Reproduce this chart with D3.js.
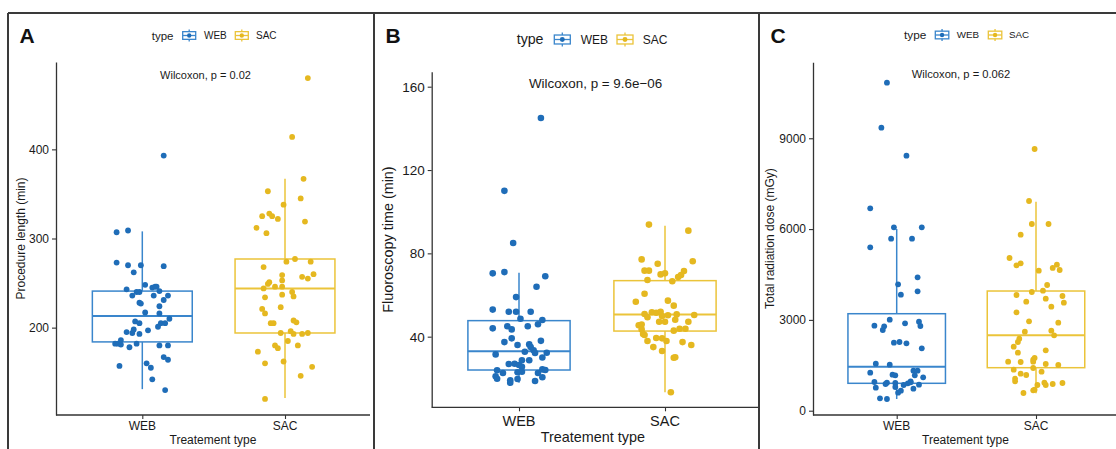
<!DOCTYPE html>
<html>
<head>
<meta charset="utf-8">
<script src="https://cdn.jsdelivr.net/npm/d3@7"></script>
<style>
  body { margin: 0; background: #fff; }
  svg { display: block; font-family: "Liberation Sans", Arial, sans-serif; }
</style>
</head>
<body>
<svg width="1116" height="449"></svg>
<script>
// Categories and colours (ggpubr "jco" palette)
const categories = ["WEB", "SAC"];
const pointColors = ["#1f6db8", "#e5b820"];
const boxColors = ["#3a86cc", "#ebc43a"];

// Each point: [value, horizontal jitter in category units]
const procWeb = [[393,0.15],[307,-0.18],[309,-0.10],[273,-0.18],[270,-0.10],[270,-0.01],[269,0.15],[262,-0.06],[243,-0.11],[240,-0.04],[240,-0.02],[248,0.02],[245,0.07],[246,0.09],[246,0.10],[241,0.12],[236,-0.07],[236,0.08],[236,0.18],[231,0.15],[228,-0.02],[227,-0.01],[224,0.12],[217,0.02],[216,0.12],[210,0.19],[207,-0.05],[205,-0.02],[201,0.11],[205,0.13],[205,0.16],[195,-0.11],[194,-0.07],[198,-0.06],[193,-0.02],[197,0.04],[182,-0.19],[182,-0.17],[186,-0.15],[181,-0.15],[178,-0.09],[182,-0.04],[180,0.12],[180,0.18],[167,0.15],[164,0.18],[157,-0.16],[160,0.03],[155,0.06],[142,0.07],[130,0.16]];
const procSac = [[480,0.16],[414,0.05],[367,0.13],[353,-0.12],[345,0.11],[338,-0.01],[325,-0.16],[328,-0.11],[325,-0.09],[322,-0.05],[319,0.14],[312,-0.20],[306,-0.13],[274,0.01],[277,0.07],[274,0.18],[268,-0.15],[259,-0.02],[257,0.12],[255,0.16],[260,0.20],[249,-0.12],[251,-0.11],[253,-0.02],[244,-0.15],[246,-0.07],[246,-0.02],[240,0.05],[235,0.06],[234,-0.14],[237,-0.02],[221,-0.16],[216,-0.14],[223,-0.03],[205,-0.10],[205,-0.08],[208,0.06],[206,0.08],[194,-0.03],[196,0.04],[193,0.06],[193,0.12],[194,0.16],[185,0.02],[180,-0.07],[177,-0.05],[180,0.09],[173,-0.19],[160,-0.14],[162,-0.01],[156,0.19],[146,0.11],[120,-0.14]];

const fluoroWeb = [[145,0.15],[110,-0.10],[85,-0.04],[70.4,-0.18],[71,-0.10],[69,0.18],[64,0.12],[59,-0.02],[53,-0.18],[52,-0.07],[52,-0.02],[52,0.08],[48.6,0.01],[48,0.16],[46,0.13],[44,-0.18],[45,-0.08],[43.5,-0.05],[45,0.06],[37.4,-0.10],[39.2,-0.05],[36,-0.01],[36.3,0.07],[38,0.15],[35,0.08],[33.5,0.10],[32.8,0.04],[32.2,0.11],[31.5,-0.16],[32.3,0.19],[30,0.16],[28.7,0.07],[28.7,0.02],[26.9,-0.07],[27,-0.03],[26.4,0],[25.6,0.02],[24.3,0.16],[24,0.18],[23.9,-0.15],[22.6,-0.11],[22.9,-0.01],[23.2,0.02],[22.6,0.13],[21,-0.16],[19.8,-0.15],[19.7,-0.01],[20.5,0.16],[19.1,-0.06],[17.9,-0.06],[18.7,0.11]];
const fluoroSac = [[93.8,-0.11],[90.9,0.16],[77.1,-0.16],[75,-0.05],[76.2,0.19],[71.7,-0.14],[71.7,-0.11],[69.9,-0.03],[70.4,0],[71.5,0.13],[69.6,0.11],[68.6,0.09],[67.2,-0.12],[66.6,0.05],[60.6,-0.14],[56.8,-0.20],[57.3,0.02],[54.9,0.06],[50.9,-0.14],[49.3,-0.12],[51.7,-0.09],[51.5,-0.06],[52,-0.03],[49.9,-0.02],[50.3,0.02],[50.7,0.08],[50.4,0.20],[47.2,-0.04],[47.2,0],[48.1,0.07],[47.2,0.16],[45.5,-0.18],[45.8,-0.16],[43.5,-0.16],[42.9,0.06],[43.8,0.10],[43.8,0.14],[41.3,-0.15],[40.8,-0.14],[39.4,-0.06],[39.2,-0.02],[37.9,0.01],[37.9,-0.12],[37.4,0.12],[35,-0.08],[36,0.18],[33.1,-0.02],[29.9,0.06],[30.1,0.07],[13.3,0.04]];

const doseWeb = [[10836,-0.07],[9349,-0.11],[8424,0.07],[6686,-0.19],[6059,-0.02],[6059,0.18],[5682,-0.04],[5682,0.11],[5398,-0.19],[4407,0.15],[4176,0.01],[3944,0.15],[3832,0.03],[3006,-0.05],[2808,-0.16],[2788,-0.09],[2666,-0.10],[2887,0.06],[2940,0.16],[2798,0.17],[2246,-0.02],[2270,0.02],[2227,0.07],[2061,0.18],[1553,-0.15],[1520,-0.05],[1255,-0.19],[1189,-0.03],[1169,-0.01],[1321,0.12],[1321,0.15],[1169,0.13],[1103,0.19],[948,-0.16],[925,-0.07],[915,-0.01],[971,0.10],[859,0.16],[760,-0.15],[882,-0.08],[783,-0.01],[661,0.03],[849,0.05],[905,0.08],[938,0.10],[595,0.01],[727,0.12],[410,-0.12],[387,-0.07]];
const doseSac = [[8646,-0.01],[6928,-0.05],[6168,-0.03],[6168,0.09],[5814,-0.11],[5045,-0.19],[4803,-0.14],[4869,-0.11],[4823,0.15],[4717,0.12],[4648,0.17],[4625,0.02],[4153,0.08],[3921,-0.03],[3964,0.05],[3822,-0.14],[3789,0.19],[3700,0.07],[3601,-0.07],[3568,0.20],[3436,0.11],[3251,-0.14],[2953,-0.05],[2907,0.16],[2610,-0.08],[2643,0.11],[2491,0.13],[2379,-0.12],[2270,-0.13],[2114,-0.16],[1916,-0.13],[1995,0.07],[1619,-0.20],[1609,-0.11],[1685,-0.02],[1741,-0.01],[1619,-0.02],[1543,0.07],[1510,0.16],[1355,-0.16],[1411,-0.02],[1288,0.04],[1222,-0.11],[1179,-0.07],[1057,-0.15],[971,-0.15],[849,0.01],[925,0.06],[849,0.07],[882,0.12],[915,0.19],[674,-0.02],[694,-0.01],[585,-0.09]];

// Box stats per group: [lower whisker, Q1, median, Q3, upper whisker]
const procBoxes = [[131, 184, 213, 241, 308], [121, 194, 244, 277, 367]];
const fluoroBoxes = [[17.9, 24, 33, 47.7, 70.7], [13.3, 42.7, 50.6, 66.9, 93.3]];
const doseBoxes = [[387, 905, 1454, 3204, 6003], [575, 1421, 2491, 3954, 6904]];

// Tick labels
const procTicks = [200, 300, 400];
const fluoroTicks = [40, 80, 120, 160];
const doseTicks = [0, 3000, 6000, 9000];

const pLabels = ["Wilcoxon, p = 0.02", "Wilcoxon, p = 9.6e\u221206", "Wilcoxon, p = 0.062"];
const yTitles = ["Procedure length (min)", "Fluoroscopy time (min)", "Total radiation dose (mGy)"];
const xTitle = "Treatement type";

const svg = d3.select("svg");

const panels = [
    { letter: "A", x0: 8, x1: 374, axisX: 56, xEnd: 370, top: 62, bottom: 415, cx: [142.3, 285],
      domain: [102, 498], ticks: procTicks, data: [procWeb, procSac], boxes: procBoxes,
      pText: pLabels[0], pPos: [205.5, 79], yTitle: yTitles[0], yTitleX: 25,
      tickFont: 12, titleFont: 12, pFont: 11, legTitleFont: 11.5, legFont: 10, r: 2.9,
      legY: 35.5, legX: [151.7, 181.7, 204, 234.3, 256], keyW: 15, keyH: 12,
      xLabY: 430, xTitleY: 444 },
    { letter: "B", x0: 374, x1: 759, axisX: 431.7, xEnd: 758, top: 71.7, bottom: 407.3, cx: [519, 665],
      domain: [6.1, 167.2], ticks: fluoroTicks, data: [fluoroWeb, fluoroSac], boxes: fluoroBoxes,
      pText: pLabels[1], pPos: [595.5, 87.5], yTitle: yTitles[1], yTitleX: 393,
      tickFont: 13.5, titleFont: 14.4, pFont: 13.4, legTitleFont: 14.2, legFont: 12, r: 3.3,
      legY: 39.5, legX: [516.7, 553.3, 580.7, 616, 642.7], keyW: 18, keyH: 14,
      xLabY: 426, xTitleY: 442 },
    { letter: "C", x0: 759, x1: 1118, axisX: 813, xEnd: 1118, top: 62.3, bottom: 415, cx: [896.7, 1036],
      domain: [-142, 11510], ticks: doseTicks, data: [doseWeb, doseSac], boxes: doseBoxes,
      pText: pLabels[2], pPos: [961, 78], yTitle: yTitles[2], yTitleX: 774,
      tickFont: 12, titleFont: 12, pFont: 11.2, legTitleFont: 11.8, legFont: 9.8, r: 2.9,
      legY: 35, legX: [904, 934.3, 956.7, 987.3, 1009], keyW: 15.5, keyH: 12,
      xLabY: 430, xTitleY: 444 }
];

const ink = "#1a1a1a";
const axisColor = "#333";

panels.forEach(p => {
    const g = svg.append("g");

    const x = d3.scalePoint().domain(categories).range(p.cx);
    const step = p.cx[1] - p.cx[0];
    const y = d3.scaleLinear().domain(p.domain).range([p.bottom, p.top]);
    const halfBox = 0.35 * step;

    // Panel letter
    g.append("text")
        .attr("x", p.x0 + 11.5)
        .attr("y", 43)
        .attr("font-size", 21)
        .attr("font-weight", "bold")
        .attr("fill", "#111")
        .text(p.letter);

    // Legend
    const leg = g.append("g");
    leg.append("text")
        .attr("x", p.legX[0]).attr("y", p.legY).attr("dy", "0.35em")
        .attr("font-size", p.legTitleFont).attr("fill", ink)
        .text("type");
    categories.forEach((c, i) => {
        const kx = p.legX[1 + i * 2];
        const kcx = kx + p.keyW / 2;
        const hb = p.keyH * 0.32;
        const k = leg.append("g").attr("stroke", boxColors[i]).attr("stroke-width", 1.3).attr("fill", "none");
        k.append("line").attr("x1", kcx).attr("x2", kcx).attr("y1", p.legY - p.keyH / 2).attr("y2", p.legY - hb);
        k.append("line").attr("x1", kcx).attr("x2", kcx).attr("y1", p.legY + hb).attr("y2", p.legY + p.keyH / 2);
        k.append("rect").attr("x", kx + 1).attr("y", p.legY - hb).attr("width", p.keyW - 2).attr("height", hb * 2);
        k.append("line").attr("x1", kx + 1).attr("x2", kx + p.keyW - 1).attr("y1", p.legY).attr("y2", p.legY);
        leg.append("circle").attr("cx", kcx).attr("cy", p.legY).attr("r", p.r * 0.75).attr("fill", pointColors[i]);
        leg.append("text")
            .attr("x", p.legX[2 + i * 2]).attr("y", p.legY).attr("dy", "0.35em")
            .attr("font-size", p.legFont).attr("fill", ink)
            .text(c);
    });

    // Boxes
    categories.forEach((c, i) => {
        const [lo, q1, med, q3, hi] = p.boxes[i];
        const bx = x(c);
        const bg = g.append("g").attr("stroke", boxColors[i]).attr("stroke-width", 1.5).attr("fill", "none");
        bg.append("line").attr("x1", bx).attr("x2", bx).attr("y1", y(hi)).attr("y2", y(q3));
        bg.append("line").attr("x1", bx).attr("x2", bx).attr("y1", y(q1)).attr("y2", y(lo));
        bg.append("rect")
            .attr("x", bx - halfBox).attr("width", 2 * halfBox)
            .attr("y", y(q3)).attr("height", y(q1) - y(q3))
            .attr("fill", "#fff");
        bg.append("line")
            .attr("x1", bx - halfBox).attr("x2", bx + halfBox)
            .attr("y1", y(med)).attr("y2", y(med))
            .attr("stroke-width", 2);
    });

    // Jittered points
    categories.forEach((c, i) => {
        g.append("g").selectAll("circle")
            .data(p.data[i])
            .join("circle")
            .attr("cx", d => x(c) + d[1] * step)
            .attr("cy", d => y(d[0]))
            .attr("r", p.r)
            .attr("fill", pointColors[i]);
    });

    // Y axis
    const yAxis = g.append("g")
        .attr("transform", `translate(${p.axisX},0)`)
        .call(d3.axisLeft(y).tickValues(p.ticks).tickFormat(d3.format("d"))
            .tickSize(4).tickSizeOuter(0).tickPadding(3));
    yAxis.select(".domain").attr("stroke", axisColor).attr("stroke-width", 1.3);
    yAxis.selectAll(".tick line").attr("stroke", axisColor).attr("stroke-width", 1.1);
    yAxis.selectAll(".tick text").attr("font-size", p.tickFont).attr("fill", ink)
        .attr("font-family", "Liberation Sans, Arial, sans-serif");

    // X axis
    const xAxis = g.append("g")
        .attr("transform", `translate(0,${p.bottom})`)
        .call(d3.axisBottom(x).tickSize(4).tickSizeOuter(0).tickPadding(2));
    xAxis.select(".domain").remove();
    xAxis.selectAll(".tick line").attr("stroke", axisColor).attr("stroke-width", 1.1);
    xAxis.selectAll(".tick text").remove();
    g.append("line")
        .attr("x1", p.axisX).attr("x2", p.xEnd)
        .attr("y1", p.bottom).attr("y2", p.bottom)
        .attr("stroke", axisColor).attr("stroke-width", 1.3);
    categories.forEach(c => {
        g.append("text")
            .attr("x", x(c)).attr("y", p.xLabY)
            .attr("text-anchor", "middle")
            .attr("font-size", p.tickFont + (p.letter === "B" ? 1 : 0))
            .attr("fill", ink)
            .text(c);
    });

    // Axis titles
    g.append("text")
        .attr("x", (p.axisX + Math.min(p.xEnd, p.x1)) / 2 + (p.letter === "B" ? -2 : 0))
        .attr("y", p.xTitleY)
        .attr("text-anchor", "middle")
        .attr("font-size", p.titleFont)
        .attr("fill", ink)
        .text(xTitle);
    g.append("text")
        .attr("transform", `translate(${p.yTitleX},${(p.top + p.bottom) / 2}) rotate(-90)`)
        .attr("text-anchor", "middle")
        .attr("font-size", p.titleFont)
        .attr("fill", ink)
        .text(p.yTitle);

    // Wilcoxon label
    g.append("text")
        .attr("x", p.pPos[0]).attr("y", p.pPos[1])
        .attr("text-anchor", "middle")
        .attr("font-size", p.pFont)
        .attr("fill", ink)
        .text(p.pText);
});

// Panel frames
const frame = svg.append("g").attr("stroke", "#3a3a3a").attr("stroke-width", 2).attr("fill", "none");
frame.append("line").attr("x1", 8).attr("x2", 1116).attr("y1", 13).attr("y2", 13);
[8, 374, 759].forEach(fx => {
    frame.append("line").attr("x1", fx).attr("x2", fx).attr("y1", 13).attr("y2", 449);
});
</script>
</body>
</html>
